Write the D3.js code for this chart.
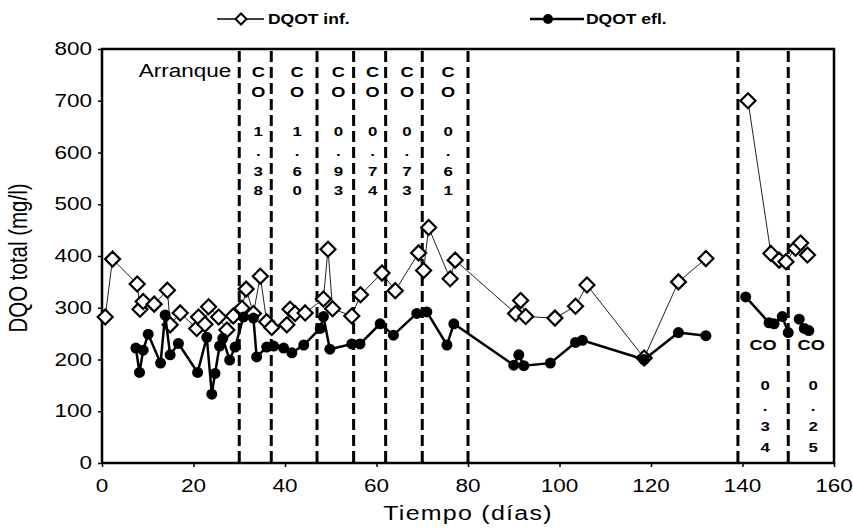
<!DOCTYPE html>
<html>
<head>
<meta charset="utf-8">
<script src="https://cdn.jsdelivr.net/npm/d3@7"></script>
<style>
    body { margin: 0; background: #fff; }
    text { font-family: "Liberation Sans", Arial, sans-serif; fill: #000; }
</style>
</head>
<body>
<div id="chart"></div>
<script>
// DQO total (mg/l) del influente y efluente contra el tiempo
var infDays = [0.7, 2.3, 7.7, 8.3, 9.0, 11.4, 14.3, 14.9, 17.1, 20.7, 21.1, 22.5, 23.3, 25.5, 27.3, 28.7,
               30.6, 31.5, 33.1, 34.6, 36.0, 37.1, 40.4, 41.1, 42.2, 44.4, 48.4, 49.4, 50.4, 54.6, 56.5,
               61.2, 64.1, 69.2, 70.3, 71.4, 76.1, 77.2, 90.4, 91.5, 92.6, 99.0, 103.5, 106.0, 118.5,
               126.0, 132.0, 136.0, 141.2, 146.2, 148.0, 149.5, 151.6, 152.7, 154.2]
var infValues = [282, 394, 346, 297, 312, 307, 334, 267, 290, 260, 282, 268, 302, 282, 257, 284,
                 299, 336, 289, 361, 273, 262, 267, 297, 289, 290, 317, 413, 298, 284, 325,
                 367, 333, 406, 372, 455, 356, 392, 289, 314, 283, 280, 303, 344, 203,
                 350, 395, null, 700, 405, 392, 389, 415, 425, 402]

var eflDays = [7.4, 8.2, 9.0, 10.1, 12.8, 13.8, 14.9, 16.7, 20.9, 22.9, 24.0, 24.7, 25.7, 26.4, 27.9,
               29.1, 30.9, 33.1, 33.8, 36.0, 37.5, 39.7, 41.5, 44.1, 47.7, 48.4, 49.8, 54.6, 56.4,
               60.8, 63.7, 68.8, 71.0, 75.4, 76.9, 90.0, 91.1, 92.2, 98.0, 103.5, 105.0, 118.5,
               126.0, 132.0, 136.0, 140.7, 145.8, 146.9, 148.7, 150.0, 151.0, 152.4, 153.5, 154.5]
var eflValues = [222, 175, 218, 249, 193, 286, 209, 231, 175, 243, 133, 173, 226, 241, 199,
                 224, 282, 280, 205, 224, 226, 222, 213, 228, 260, 283, 220, 230, 230,
                 269, 247, 289, 292, 228, 269, 189, 209, 188, 193, 233, 237, 200,
                 252, 246, null, 321, 271, 269, 283, 252, null, 278, 260, 256]

var phaseLines = [30, 37, 47, 55, 62, 70, 80, 139, 150]
var topLabels = ["1.38", "1.60", "0.93", "0.74", "0.73", "0.61"]
var bottomLabels = ["0.34", "0.25"]
var xTicks = [0, 20, 40, 60, 80, 100, 120, 140, 160]
var yTicks = [0, 100, 200, 300, 400, 500, 600, 700, 800]

var width = 853, height = 530
var sx = 1.25   // the original letters are wide

var svg = d3.select("#chart").append("svg")
            .attr("width", width)
            .attr("height", height)

var x = d3.scaleLinear().domain([0, 160]).range([102, 834])
var y = d3.scaleLinear().domain([0, 800]).range([463, 49])

function label(px, py, str, size, anchor, weight){
    return svg.append("text")
              .attr("transform", "translate(" + px + "," + py + ") scale(" + sx + ",1)")
              .attr("text-anchor", anchor || "middle")
              .style("font-size", size + "px")
              .style("font-weight", weight || "normal")
              .text(str)
}

// axes
var xAxis = svg.append("g")
               .attr("transform", "translate(0," + y(0) + ")")
               .call(d3.axisBottom(x).tickValues(xTicks).tickSize(4).tickFormat(""))
var yAxis = svg.append("g")
               .attr("transform", "translate(" + x(0) + ",0)")
               .call(d3.axisLeft(y).tickValues(yTicks).tickSize(4).tickFormat(""))
svg.selectAll(".domain").remove()
svg.selectAll(".tick line").attr("stroke", "#000").attr("stroke-width", 1.5)

xTicks.forEach(function(t){ label(x(t), 492, t, 18) })
yTicks.forEach(function(t){ label(92, y(t) + 6, t, 18, "end") })

// plot frame
svg.append("rect")
   .attr("x", x(0)).attr("y", y(800))
   .attr("width", x(160) - x(0)).attr("height", y(0) - y(800))
   .attr("fill", "none").attr("stroke", "#000").attr("stroke-width", 2.5)

// phase separators
svg.selectAll(".phase")
   .data(phaseLines)
   .enter()
   .append("line")
   .attr("class", "phase")
   .attr("x1", function(d){ return x(d) }).attr("x2", function(d){ return x(d) })
   .attr("y1", y(800) + 2).attr("y2", y(0))
   .attr("stroke", "#000").attr("stroke-width", 3)
   .attr("stroke-dasharray", "11,5")

// phase labels, written top to bottom
label(x(30) - 8, 77, "Arranque", 18, "end")
topLabels.forEach(function(v, i){
    var cx = (x(phaseLines[i]) + x(phaseLines[i + 1])) / 2 + 3
    var rows = ["C", "O", ""].concat(v.split(""))
    rows.forEach(function(ch, j){
        label(cx, 77 + j * 19.7, ch, j < 2 ? 14.5 : 13.5, "middle", "bold")
    })
})
bottomLabels.forEach(function(v, i){
    var lo = i == 0 ? 139 : 150, hi = i == 0 ? 150 : 160
    var cx = (x(lo) + x(hi)) / 2
    label(cx, 350, "CO", 14.5, "middle", "bold")
    v.split("").forEach(function(ch, j){
        label(cx + 2, 390 + j * 20.5, ch, 13.5, "middle", "bold")
    })
})

// series
var inf = infDays.map(function(d, i){ return {t: d, v: infValues[i]} })
var efl = eflDays.map(function(d, i){ return {t: d, v: eflValues[i]} })

var line = d3.line()
             .defined(function(d){ return d.v != null })
             .x(function(d){ return x(d.t) })
             .y(function(d){ return y(d.v) })

var diamond = "M0,-7.5L7.5,0L0,7.5L-7.5,0Z"

svg.append("path").datum(inf)
   .attr("d", line)
   .attr("fill", "none").attr("stroke", "#222").attr("stroke-width", 1)

svg.selectAll(".inf")
   .data(inf.filter(function(d){ return d.v != null }))
   .enter()
   .append("path")
   .attr("class", "inf")
   .attr("d", diamond)
   .attr("transform", function(d){ return "translate(" + x(d.t) + "," + y(d.v) + ")" })
   .attr("fill", "#fff").attr("stroke", "#000").attr("stroke-width", 2.2)

svg.append("path").datum(efl)
   .attr("d", line)
   .attr("fill", "none").attr("stroke", "#000").attr("stroke-width", 2.5)

svg.selectAll(".efl")
   .data(efl.filter(function(d){ return d.v != null }))
   .enter()
   .append("circle")
   .attr("class", "efl")
   .attr("cx", function(d){ return x(d.t) })
   .attr("cy", function(d){ return y(d.v) })
   .attr("r", 5.5)
   .attr("fill", "#000")

// legend
svg.append("line").attr("x1", 217).attr("x2", 264).attr("y1", 19).attr("y2", 19)
   .attr("stroke", "#000").attr("stroke-width", 1.5)
svg.append("path").attr("d", "M0,-5.5L5.5,0L0,5.5L-5.5,0Z")
   .attr("transform", "translate(241,19)")
   .attr("fill", "#fff").attr("stroke", "#000").attr("stroke-width", 2)
label(268, 24, "DQOT inf.", 14, "start", "bold")

svg.append("line").attr("x1", 530).attr("x2", 584).attr("y1", 19).attr("y2", 19)
   .attr("stroke", "#000").attr("stroke-width", 2.5)
svg.append("circle").attr("cx", 548).attr("cy", 19).attr("r", 5).attr("fill", "#000")
label(586, 24, "DQOT efl.", 14, "start", "bold")

// axis titles
label(468, 520, "Tiempo (días)", 20).style("letter-spacing", "1px")
svg.append("text")
   .attr("transform", "translate(27,258) scale(" + sx + ",1) rotate(-90)")
   .attr("text-anchor", "middle")
   .style("font-size", "20.5px")
   .text("DQO total (mg/l)")
</script>
</body>
</html>
